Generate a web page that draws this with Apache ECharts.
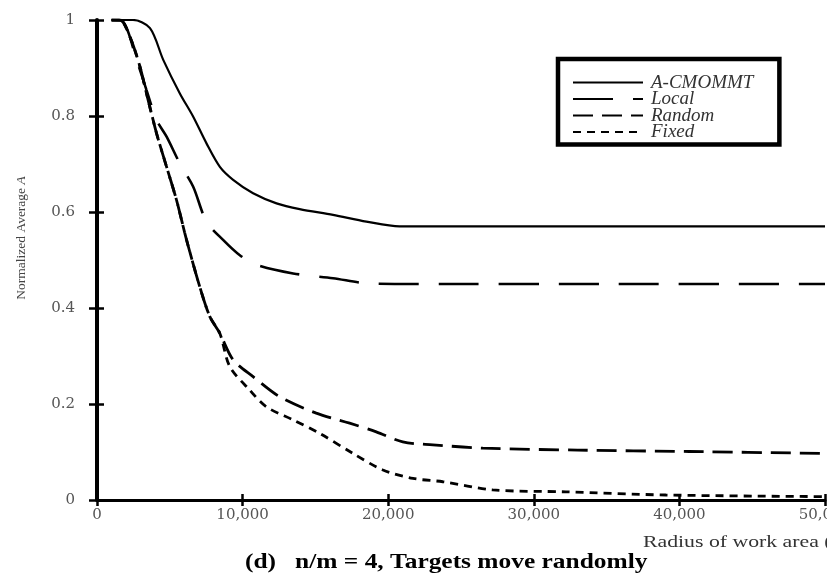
<!DOCTYPE html>
<html><head><meta charset="utf-8">
<script src="https://cdn.jsdelivr.net/npm/echarts@6/dist/echarts.min.js"></script>
<style>html,body{margin:0;padding:0;background:#fff}#c{width:827px;height:574px}</style>
</head><body><div id="c"></div>
<script>
const seriesNames = ['A-CMOMMT', 'Local', 'Random', 'Fixed'];
const xTicks = [0, 10000, 20000, 30000, 40000, 50000];
const yTicks = [0, 0.2, 0.4, 0.6, 0.8, 1];
const acmommt = [[1000,1],[2470,1],[3640,0.983],[4550,0.917],[5690,0.847],[6600,0.799],[7520,0.743],[8440,0.694],[9350,0.667],[10720,0.639],[12330,0.618],[13920,0.606],[16210,0.594],[18500,0.580],[20780,0.570],[25000,0.570],[35000,0.570],[50000,0.570]];
const local = [[1000,1],[1800,0.996],[2720,0.917],[3400,0.854],[4090,0.792],[4780,0.757],[5690,0.701],[6600,0.653],[7520,0.580],[8660,0.542],[9810,0.510],[10950,0.490],[13470,0.472],[16210,0.462],[18720,0.451],[22000,0.450],[35000,0.450],[50000,0.450]];
const random = [[1000,1],[1580,1],[2260,0.965],[2950,0.903],[3400,0.847],[4090,0.764],[4780,0.694],[5460,0.625],[6150,0.542],[7060,0.444],[7750,0.382],[8440,0.347],[9350,0.292],[10720,0.257],[12550,0.215],[15060,0.181],[17350,0.160],[19180,0.142],[21000,0.121],[23070,0.115],[26500,0.108],[33000,0.104],[40670,0.101],[50000,0.097]];
const fixed = [[1000,1],[1580,1],[2260,0.965],[2950,0.903],[3400,0.847],[4090,0.764],[4780,0.694],[5460,0.625],[6150,0.542],[7060,0.444],[7750,0.382],[8440,0.347],[9120,0.278],[10490,0.229],[11640,0.194],[13470,0.167],[15290,0.139],[17580,0.097],[19640,0.0625],[21700,0.045],[23750,0.038],[27180,0.021],[32210,0.017],[39070,0.0104],[50000,0.007]];
const dataSets = [acmommt, local, random, fixed];
const titleText = '(d)   n/m = 4, Targets move randomly';
const xName = 'Radius of work area (m)';
const yName = 'Normalized Average {i|A}';

const SERIF = 'Liberation Serif';
const NUMFONT = 'DejaVu Serif';
const dashes = ['solid', [40, 20], [20, 9], [8, 6]];
const widths = [2.2, 2.6, 2.8, 2.8];

const chart = echarts.init(document.getElementById('c'), null, {renderer: 'canvas'});
const tick = (len) => ({show: true, inside: true, length: len, lineStyle: {color: '#000', width: 2.5}});
chart.setOption({
  animation: false,
  backgroundColor: '#fff',
  grid: {left: 97, top: 20, width: 728, height: 480, outerBoundsMode: 'none', containLabel: false},
  legend: {
    data: seriesNames, orient: 'vertical', left: 558, top: 59,
    padding: [14, 26, 3, 14], itemGap: -2.5, itemWidth: 70, itemHeight: 10,
    borderColor: '#000', borderWidth: 4.5, backgroundColor: '#fff',
    itemStyle: {opacity: 0},
    textStyle: {fontFamily: SERIF, fontStyle: 'italic', fontSize: 19, color: '#333', padding: [0, 0, 0, 3]}
  },
  xAxis: [
    {type: 'value', min: 0, max: 50000, interval: 10000, position: 'bottom', splitLine: {show: false},
      axisLine: {show: true, lineStyle: {color: '#000', width: 3}}, axisTick: tick(6),
      axisLabel: {show: true, margin: 8, fontFamily: NUMFONT, fontSize: 15, color: '#555',
        formatter: v => xTicks.includes(v) ? v.toLocaleString('en-US') : ''}},
    {type: 'value', min: 0, max: 50000, interval: 10000, position: 'top', splitLine: {show: false},
      axisLine: {show: true, lineStyle: {color: '#000', width: 2}}, axisTick: tick(6),
      axisLabel: {show: false}}
  ],
  yAxis: [
    {type: 'value', min: 0, max: 1, interval: 0.2, position: 'left', splitLine: {show: false},
      axisLine: {show: true, lineStyle: {color: '#000', width: 4}}, axisTick: tick(7),
      axisLabel: {show: true, margin: 22, fontFamily: NUMFONT, fontSize: 15, color: '#555',
        formatter: v => yTicks.some(t => Math.abs(t - v) < 1e-9) ? String(+v.toFixed(1)) : ''}},
    {type: 'value', min: 0, max: 1, interval: 0.2, position: 'right', splitLine: {show: false},
      axisLine: {show: true, lineStyle: {color: '#000', width: 2}}, axisTick: tick(8),
      axisLabel: {show: false}}
  ],
  graphic: [
    {type: 'text', x: 245, y: 552, scaleX: 1.21,
      style: {text: titleText, font: 'bold 21px "Liberation Serif"', fill: '#000', textVerticalAlign: 'top'}},
    {type: 'text', x: 643, y: 535, scaleX: 1.36,
      style: {text: xName, font: '16px "Liberation Serif"', fill: '#333', textVerticalAlign: 'top'}},
    {type: 'text', x: 21, y: 238, rotation: Math.PI / 2,
      style: {text: yName, font: '13.5px "Liberation Serif"', fill: '#444', align: 'center', verticalAlign: 'middle',
        rich: {i: {fontStyle: 'italic', fontFamily: SERIF, fontSize: 13.5, fill: '#444'}}}}
  ],
  series: seriesNames.map((n, i) => ({
    name: n, type: 'line', data: dataSets[i], xAxisIndex: 0, yAxisIndex: 0,
    symbol: 'none', smooth: 0.3, clip: true,
    lineStyle: {color: '#000', width: widths[i], type: dashes[i]},
    itemStyle: {color: '#000'}
  }))
});
</script></body></html>
